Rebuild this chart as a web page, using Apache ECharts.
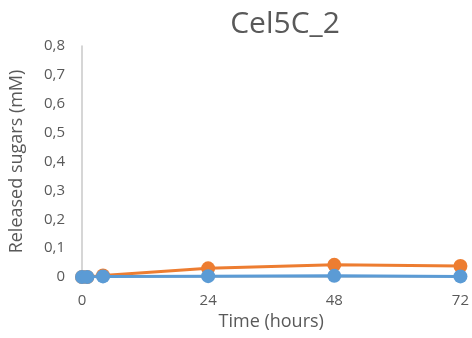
<!DOCTYPE html>
<html>
<head>
<meta charset="utf-8">
<script src="https://cdn.jsdelivr.net/npm/echarts@6/dist/echarts.min.js"></script>
<style>
  html, body { margin: 0; padding: 0; background: #fff; }
  #chart { width: 472px; height: 338px; }
</style>
</head>
<body>
<div id="chart"></div>
<script>
// Sampling times (hours)
const hours = [0, 1, 4, 24, 48, 72];
// Released sugars (mM) for the two series
const orangeSeries = [0, 0, 0.005, 0.03, 0.042, 0.038];
const blueSeries = [0, 0, 0.002, 0.003, 0.004, 0.002];
const xTicks = [0, 24, 48, 72];

const textColor = '#595959';
const font = '"Open Sans", "Liberation Sans", sans-serif';

function pairs(xs, ys) {
  return xs.map((x, i) => [x, ys[i]]);
}

const chart = echarts.init(document.getElementById('chart'));
chart.setOption({
  animation: false,
  title: {
    text: 'Cel5C_2',
    left: 280,
    textAlign: 'center',
    top: 4,
    textStyle: { color: textColor, fontSize: 30, fontWeight: 'normal', fontFamily: font }
  },
  grid: { left: 80, right: 10, top: 46, bottom: 61 },
  xAxis: {
    type: 'value',
    min: 0, max: 72, interval: 24,
    name: 'Time (hours)',
    nameLocation: 'middle',
    nameGap: 30,
    nameTextStyle: { color: textColor, fontSize: 18, fontFamily: font },
    axisLine: { show: true, lineStyle: { color: '#d0d0d0', width: 1 } },
    axisTick: { show: false },
    splitLine: { show: false },
    axisLabel: {
      color: textColor, fontSize: 15, fontFamily: font, margin: 16,
      formatter: v => xTicks.includes(v) ? String(v) : ''
    }
  },
  yAxis: {
    type: 'value',
    min: 0, max: 0.8, interval: 0.1,
    name: 'Released sugars (mM)',
    nameLocation: 'middle',
    nameGap: 56,
    nameTextStyle: { color: textColor, fontSize: 18, fontFamily: font },
    axisLine: { show: true, lineStyle: { color: '#c8c8c8', width: 1.5 } },
    axisTick: { show: false },
    splitLine: { show: false },
    axisLabel: {
      color: textColor, fontSize: 15, fontFamily: font, margin: 17,
      formatter: v => v === 0 ? '0' : v.toFixed(1).replace('.', ',')
    }
  },
  series: [
    {
      type: 'line',
      data: pairs(hours, orangeSeries),
      symbol: 'circle',
      symbolSize: 14,
      lineStyle: { color: '#ED7D31', width: 3 },
      itemStyle: { color: '#ED7D31' },
      z: 2
    },
    {
      type: 'line',
      data: pairs(hours, blueSeries),
      symbol: 'circle',
      symbolSize: 14,
      lineStyle: { color: '#5B9BD5', width: 3 },
      itemStyle: { color: '#5B9BD5' },
      z: 3
    }
  ]
});
</script>
</body>
</html>
